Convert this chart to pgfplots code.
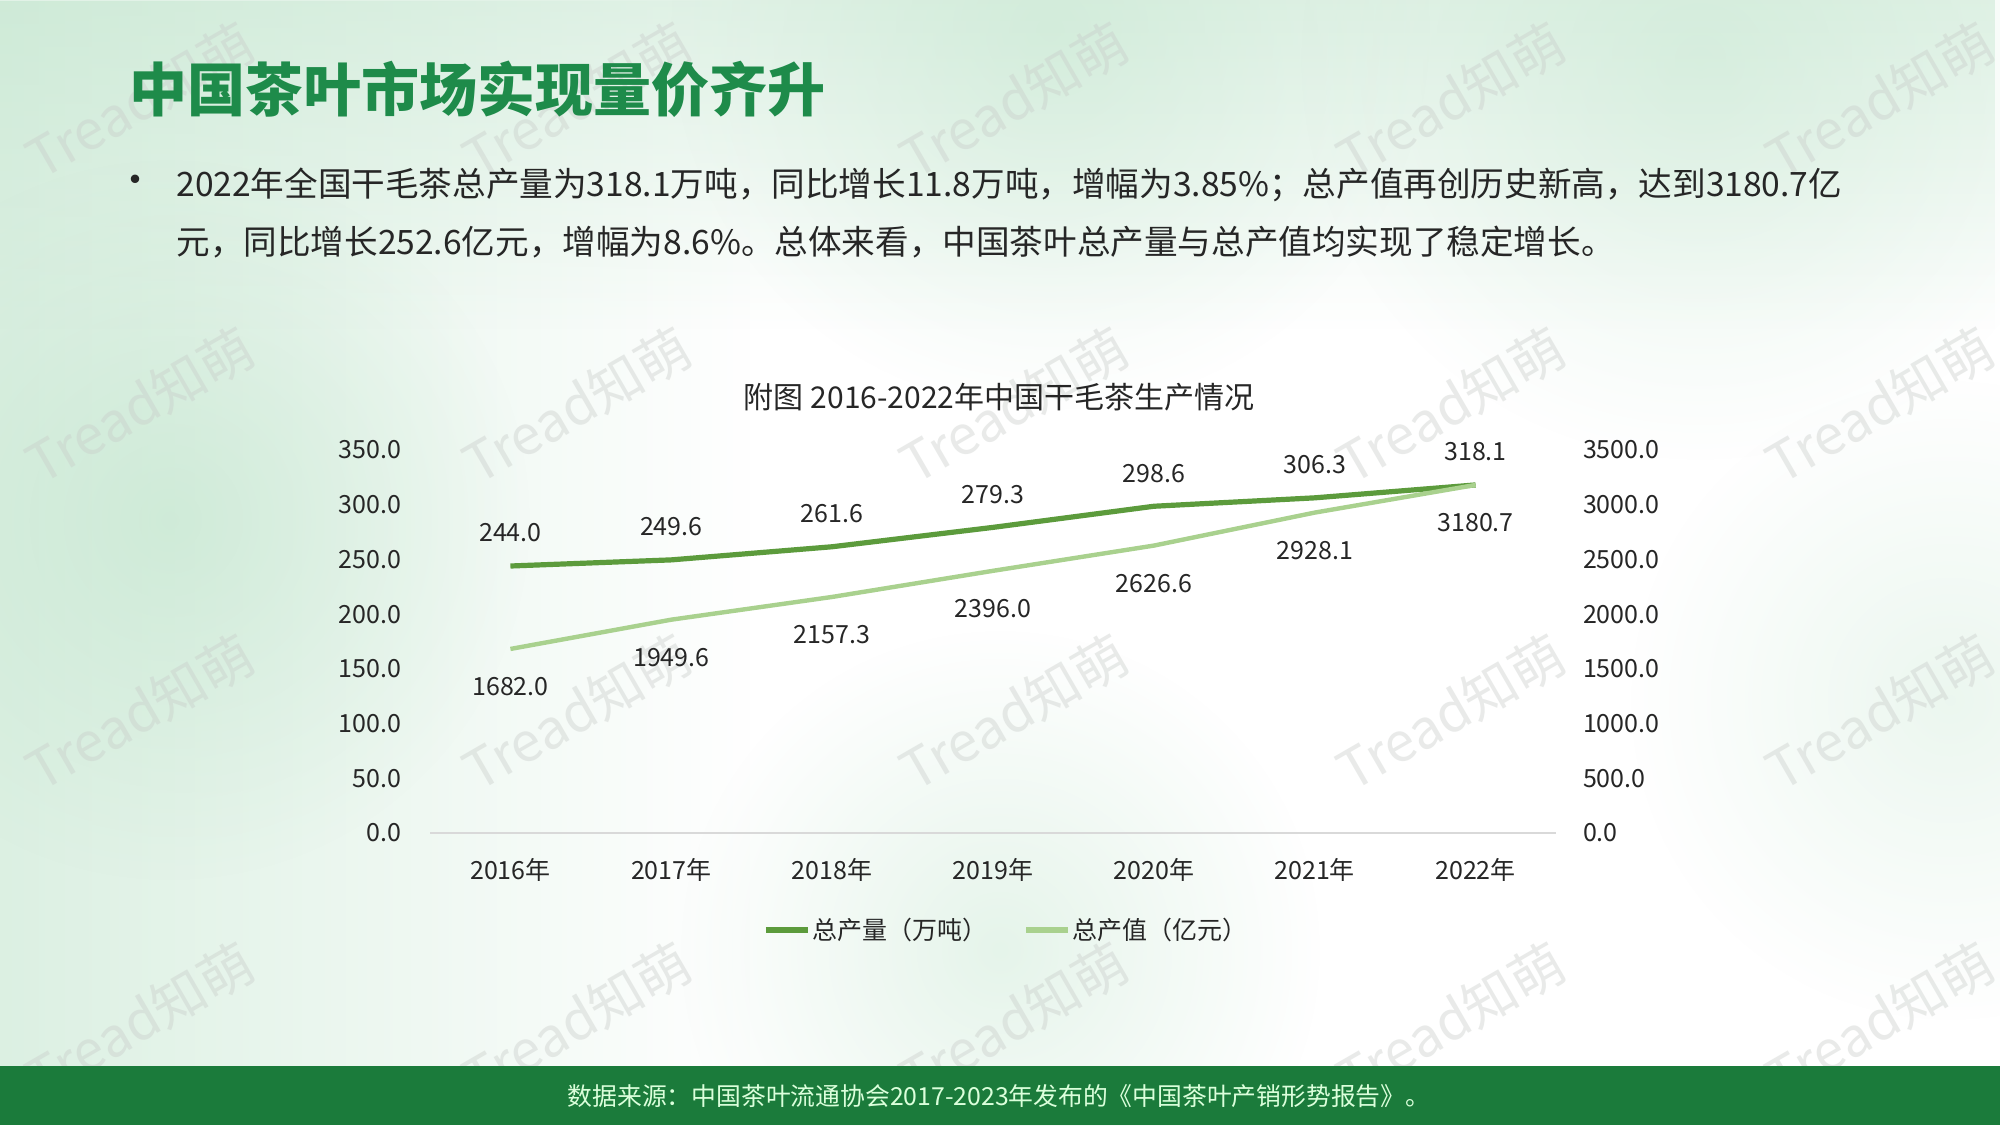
\documentclass[border=0pt]{standalone}
\usepackage{fontspec}
\usepackage{pgfplots}
\pgfplotsset{compat=1.18}
\usetikzlibrary{fadings}
\setmainfont{Noto Sans CJK SC}
\definecolor{titlegreen}{HTML}{1E8B4A}
\definecolor{footgreen}{HTML}{1B7B3B}
\definecolor{prodgreen}{HTML}{5C9B3C}
\definecolor{valgreen}{HTML}{A9D18E}
\definecolor{txt}{HTML}{262626}
\definecolor{axisgray}{HTML}{D9D9D9}
\definecolor{tint}{HTML}{BFE4CB}
\definecolor{wm}{HTML}{C8CCC9}
\tikzfading[name=myfade, inner color=transparent!0, outer color=transparent!100]
\tikzfading[name=fadeleft, left color=transparent!0, right color=transparent!100]
\tikzfading[name=fadetop, top color=transparent!0, bottom color=transparent!100]
\begin{document}
\begin{tikzpicture}
\fill[white] (0,0) rectangle (1000pt,-562.5pt);
\begin{scope}[x=0.5pt,y=-0.5pt]
% soft background tints
\fill[tint, opacity=0.55, path fading=fadeleft] (0,0) rectangle (750,1066);
\fill[tint, opacity=0.45, path fading=fadetop] (0,0) rectangle (2000,330);
\fill[tint, opacity=0.55, path fading=myfade] (170,520) circle (360);
\fill[tint, opacity=0.45, path fading=myfade] (1050,30) circle (380);
\fill[tint, opacity=0.40, path fading=myfade] (1700,60) circle (400);
\fill[tint, opacity=0.40, path fading=myfade] (1000,950) circle (320);
\fill[tint, opacity=0.30, path fading=myfade] (1950,700) circle (320);
% watermarks
\foreach \wx in {140,577,1014,1451,1880}{
  \foreach \wy in {100,405,712,1020}{
    \node[rotate=30, text=wm, opacity=0.40, inner sep=0pt, font=\fontsize{27}{31}\selectfont] at (\wx,\wy) {Tread知萌};
  }
}
% title and text
\node[anchor=west, inner sep=0pt, text=titlegreen, font=\fontsize{29}{34}\selectfont\bfseries] at (129,89) {中国茶叶市场实现量价齐升};
\node[anchor=center, inner sep=0pt, text=txt, font=\fontsize{20}{24}\selectfont] at (135,185) {•};
\node[anchor=west, inner sep=0pt, text=txt, font=\fontsize{16.8}{20}\selectfont] at (176,185) {2022年全国干毛茶总产量为318.1万吨，同比增长11.8万吨，增幅为3.85\%；总产值再创历史新高，达到3180.7亿};
\node[anchor=west, inner sep=0pt, text=txt, font=\fontsize{16.8}{20}\selectfont] at (176,242) {元，同比增长252.6亿元，增幅为8.6\%。总体来看，中国茶叶总产量与总产值均实现了稳定增长。};
\node[anchor=center, inner sep=0pt, text=txt, font=\fontsize{15}{18}\selectfont] at (999,397) {附图\hspace{0.25em}2016-2022年中国干毛茶生产情况};
% footer
\fill[footgreen] (0,1066) rectangle (2000,1125);
\node[anchor=center, inner sep=0pt, text=white!86!green, font=\fontsize{12.4}{15}\selectfont] at (999,1096) {数据来源：中国茶叶流通协会2017-2023年发布的《中国茶叶产销形势报告》。};
\end{scope}

\pgfplotsset{
  base/.style={
    at={(215pt,-416.5pt)}, anchor=south west,
    scale only axis, width=563pt, height=191.5pt,
    xmin=-0.5, xmax=6.5, ymin=0,
    major tick length=0pt,
    tick label style={font=\fontsize{12.5}{15}\selectfont, text=txt},
    /pgf/number format/assume math mode=true,
    /pgf/number format/.cd, fixed, fixed zerofill, precision=1, 1000 sep={},
    /pgfplots/.cd,
    nodes near coords,
    every node near coord/.append style={font=\fontsize{12.5}{15}\selectfont, text=txt, anchor=center},
    clip=false,
  }
}
\begin{axis}[base,
  ymax=350, ytick={0,50,...,350},
  axis x line*=bottom, axis y line*=left,
  x axis line style={-, draw=axisgray, line width=1pt},
  y axis line style={draw=none},
  xtick={0,...,6},
  xticklabels={2016年,2017年,2018年,2019年,2020年,2021年,2022年},
  xticklabel style={yshift=-9pt},
  yticklabel style={anchor=east, xshift=-11pt},
  every node near coord/.append style={yshift=16.5pt},
  legend style={at={(0.512,-0.253)}, anchor=center, draw=none, fill=none,
    font=\fontsize{12.5}{15}\selectfont, text=txt, legend columns=2,
    /tikz/every even column/.append style={column sep=17pt},
    nodes={inner xsep=1pt},
    inner sep=0pt},
  legend image code/.code={\draw[#1, line cap=butt] (0pt,0pt) -- (21pt,0pt);},
]
\addplot[prodgreen, line width=2.6pt, line join=round] coordinates {
 (0,244.0) (1,249.6) (2,261.6) (3,279.3) (4,298.6) (5,306.3) (6,318.1)};
\addlegendentry{总产量（万吨）}
\addlegendimage{valgreen, line width=2.6pt}
\addlegendentry{总产值（亿元）}
\end{axis}
\begin{axis}[base,
  ymax=3500, ytick={0,500,...,3500},
  axis x line=none, axis y line*=right,
  y axis line style={draw=none},
  xtick=\empty,
  yticklabel style={anchor=west, xshift=10pt},
  every node near coord/.append style={yshift=-19pt},
]
\addplot[valgreen, line width=2.2pt, line join=round] coordinates {
 (0,1682.0) (1,1949.6) (2,2157.3) (3,2396.0) (4,2626.6) (5,2928.1) (6,3180.7)};
\end{axis}
\pgfresetboundingbox
\useasboundingbox (0,0) rectangle (1000pt,-562.5pt);
\end{tikzpicture}
\end{document}
